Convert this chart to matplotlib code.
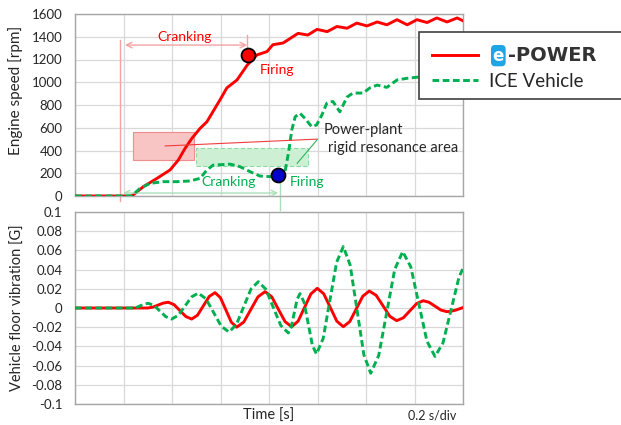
import matplotlib
matplotlib.use('Agg')
import matplotlib.pyplot as plt
from matplotlib.lines import Line2D
from matplotlib.patches import Rectangle

plt.rcParams['font.family'] = ['Lato', 'DejaVu Sans']

# ---------------- data (time in 0.2 s divisions) ----------------
t_rpm_epower = [0, 1.17, 1.41, 1.69, 1.96, 2.13, 2.27, 2.41, 2.58, 2.72, 2.99, 3.13,
                3.34, 3.55, 3.75, 3.96, 4.08, 4.29, 4.60, 4.80, 4.99, 5.20, 5.40,
                5.61, 5.81, 6.02, 6.23, 6.43, 6.64, 6.85, 7.05, 7.26, 7.46, 7.67,
                7.88, 8.0]
rpm_epower = [0, 0, 82, 155, 229, 316, 419, 507, 595, 653, 845, 950,
              1020, 1150, 1240, 1270, 1330, 1345, 1430, 1415, 1465, 1445, 1490,
              1475, 1520, 1495, 1530, 1505, 1550, 1505, 1550, 1525, 1565, 1530,
              1565, 1540]

t_rpm_ice = [0, 1.17, 1.34, 1.55, 1.82, 2.10, 2.37, 2.58, 2.72, 2.85, 3.20, 3.40,
             3.61, 3.81, 4.02, 4.19, 4.33, 4.40, 4.47, 4.54, 4.64, 4.74, 4.88,
             4.98, 5.09, 5.19, 5.26, 5.32, 5.46, 5.61, 5.73, 5.94, 6.08, 6.23,
             6.43, 6.64, 6.85, 7.07, 7.53, 8.0]
rpm_ice = [0, 0, 68, 111, 126, 126, 132, 155, 229, 272, 280, 258,
           214, 176, 170, 185, 214, 375, 580, 697, 727, 683, 609,
           624, 712, 815, 829, 830, 740, 870, 905, 905, 950, 975,
           955, 1020, 1035, 1045, 1070, 1090]

t_vib_epower = [0, 1.0, 1.50, 1.606, 1.712, 1.818, 1.924, 2.045, 2.165, 2.286, 2.406,
                2.526, 2.647, 2.767, 2.887, 2.999, 3.111, 3.222, 3.334, 3.480, 3.626,
                3.772, 3.918, 4.056, 4.193, 4.331, 4.468, 4.600, 4.732, 4.864, 4.996,
                5.130, 5.264, 5.398, 5.532, 5.666, 5.800, 5.934, 6.068, 6.209, 6.351,
                6.492, 6.633, 6.770, 6.907, 7.044, 7.181, 7.302, 7.423, 7.543, 7.664,
                7.75, 7.85, 7.93, 8.0]
vib_epower = [0, 0, 0, 0.0009, 0.003, 0.0051, 0.006, 0.0034, -0.0028, -0.0089, -0.0115,
              -0.0075, 0.0023, 0.012, 0.016, 0.0107, -0.002, -0.0147, -0.020, -0.0146, -0.0015,
              0.0116, 0.017, 0.0117, -0.0013, -0.0142, -0.0195, -0.0137, 0.0005, 0.0147, 0.0205,
              0.0147, 0.0005, -0.0137, -0.0195, -0.0141, -0.0009, 0.0123, 0.0177, 0.0132, 0.0023,
              -0.0087, -0.0132, -0.0102, -0.0028, 0.0046, 0.0076, 0.0059, 0.0019, -0.0021, -0.0038,
              -0.0034, -0.0022, -0.0008, 0.0005]

t_vib_ice = [0, 1.196, 1.275, 1.354, 1.432, 1.511, 1.632, 1.753, 1.873, 1.994,
             2.131, 2.268, 2.405, 2.542, 2.700, 2.859, 3.017, 3.175, 3.326, 3.477,
             3.628, 3.779, 3.934, 4.088, 4.243, 4.398, 4.458, 4.519, 4.579, 4.639,
             4.724, 4.809, 4.894, 4.979, 5.117, 5.256, 5.394, 5.532, 5.673, 5.815,
             5.956, 6.097, 6.262, 6.427, 6.592, 6.757, 6.924, 7.090, 7.257, 7.423,
             7.587, 7.752, 7.916, 8.0]
vib_ice = [0, 0, 0.0007, 0.00245, 0.0042, 0.0049, 0.0025, -0.0033, -0.0091, -0.0115,
           -0.0076, 0.002, 0.0116, 0.0155, 0.0096, -0.0048, -0.0191, -0.025, -0.0174, 0.0012,
           0.0197, 0.0274, 0.0196, 0.0007, -0.0182, -0.026, -0.020, -0.0055, 0.009, 0.015,
           0.0058, -0.0165, -0.0388, -0.048, -0.0317, 0.008, 0.0476, 0.064, 0.0447, -0.002,
           -0.0487, -0.068, -0.0495, -0.0047, 0.0402, 0.0587, 0.0428, 0.0041, -0.0346, -0.0505,
           -0.0364, -0.0023, 0.0319, 0.0413]

rpm_ticks = [0, 200, 400, 600, 800, 1000, 1200, 1400, 1600]
vib_ticks = [-0.1, -0.08, -0.06, -0.04, -0.02, 0, 0.02, 0.04, 0.06, 0.08, 0.1]
vib_tick_labels = ['-0.1', '-0.08', '-0.06', '-0.04', '-0.02', '0',
                   '0.02', '0.04', '0.06', '0.08', '0.1']
time_divs = [0, 1, 2, 3, 4, 5, 6, 7, 8]
series_labels = ['e-POWER', 'ICE Vehicle']

RED = '#ff0000'
GREEN = '#00b050'
LRED = '#f4a3a3'
LGREEN = '#a9dfb9'
TXT = '#262626'
DASH = (2.3, 1.2)

W, H = 621, 425
fig = plt.figure(figsize=(W / 100, H / 100), dpi=100)
ax1 = fig.add_axes([75 / W, 1 - 196 / H, 388 / W, 182 / H])
ax2 = fig.add_axes([75 / W, 1 - 404 / H, 388 / W, 192 / H])

for ax in (ax1, ax2):
    ax.set_xlim(0, 8)
    ax.set_xticks(time_divs)
    ax.set_xticklabels([])
    ax.grid(True, color='#d9d9d9', lw=0.9)
    ax.set_axisbelow(True)
    for s in ax.spines.values():
        s.set_color('#a6a6a6')
        s.set_linewidth(1.0)
    ax.tick_params(length=0, pad=9, labelsize=9.5, labelcolor=TXT)

# ---- top: engine speed ----
ax1.set_ylim(0, 1600)
ax1.set_yticks(rpm_ticks)

# resonance areas
ax1.add_patch(Rectangle((1.20, 318), 1.25, 247, facecolor='#f9c4c4', edgecolor='#f08c8c',
                        lw=0.8, zorder=1.5))
ax1.add_patch(Rectangle((2.50, 266), 2.31, 153, facecolor='#cdf0d4', edgecolor='#8fd9a3',
                        lw=0.8, ls=(0, (4, 2)), zorder=1.5))

ax1.plot(t_rpm_epower, rpm_epower, color=RED, lw=2.1, zorder=3)
ax1.plot(t_rpm_ice, rpm_ice, color=GREEN, lw=2.1, dashes=DASH, zorder=3.1)

# resonance pointer lines
ax1.plot([1.86, 4.99], [440, 500], color='#f03c3c', lw=0.8, zorder=3.2)
ax1.plot([4.58, 5.0], [287, 498], color='#2fb45a', lw=0.8, zorder=3.2)
ax1.text(5.13, 580, 'Power-plant', fontsize=10.5, color=TXT, va='center', ha='left', zorder=4)
ax1.text(5.22, 420, 'rigid resonance area', fontsize=10.5, color=TXT, va='center', ha='left', zorder=4)

# e-POWER cranking
ax1.plot([0.93, 0.93], [-40, 1370], color=LRED, lw=1.0, clip_on=False, zorder=2)
ax1.annotate('', xy=(1.03, 1327), xytext=(3.55, 1327),
             arrowprops=dict(arrowstyle='<->', color=LRED, lw=1.0, shrinkA=0, shrinkB=0))
ax1.plot([3.55, 3.55], [1283, 1415], color=LRED, lw=1.0, zorder=2)
ax1.text(2.25, 1398, 'Cranking', fontsize=10, color=RED, ha='center', va='center')
ax1.plot([3.57], [1240], 'o', ms=10, mfc='#ff0000', mec='black', mew=1.3, zorder=5)
ax1.text(3.81, 1107, 'Firing', fontsize=10, color=RED, ha='left', va='center')

# ICE cranking
ax1.plot([4.23, 4.23], [-120, 140], color=LGREEN, lw=1.0, clip_on=False, zorder=2)
ax1.annotate('', xy=(0.99, 26), xytext=(4.19, 26),
             arrowprops=dict(arrowstyle='<->', color=LGREEN, lw=1.0, shrinkA=0, shrinkB=0))
ax1.text(3.16, 123, 'Cranking', fontsize=10, color=GREEN, ha='center', va='center')
ax1.plot([4.19], [189], 'o', ms=10, mfc='#0000cc', mec='black', mew=1.3, zorder=5)
ax1.text(4.42, 123, 'Firing', fontsize=10, color=GREEN, ha='left', va='center')

# ---- bottom: vibration ----
ax2.set_ylim(-0.1, 0.1)
ax2.set_yticks(vib_ticks)
ax2.set_yticklabels(vib_tick_labels)
ax2.plot(t_vib_epower, vib_epower, color=RED, lw=2.1, zorder=3)
ax2.plot(t_vib_ice, vib_ice, color=GREEN, lw=2.1, dashes=DASH, zorder=3.1)

fig.text(269 / W, 1 - 416 / H, 'Time [s]', fontsize=10.5, color=TXT, ha='center', va='center')
fig.text(432 / W, 1 - 416 / H, '0.2 s/div', fontsize=9, color=TXT, ha='center', va='center')
fig.text(16 / W, 1 - 90 / H, 'Engine speed [rpm]', fontsize=11, color=TXT,
         rotation=90, ha='center', va='center')
fig.text(18 / W, 1 - 308 / H, 'Vehicle floor vibration [G]', fontsize=10.5, color=TXT,
         rotation=90, ha='center', va='center')

# ---- legend (box runs off the right edge, as in the reference) ----
fig.add_artist(Rectangle((419 / W, 1 - 99 / H), 220 / W, 67 / H, transform=fig.transFigure,
                         facecolor='white', edgecolor='#404040', lw=1.2, zorder=9,
                         clip_on=False))
LOGO_SHIFT = 19  # px: room for the blue "e" badge of the e-POWER logo
handles = [Line2D([], [], color=RED, lw=2.1),
           Line2D([], [], color=GREEN, lw=2.1, dashes=DASH)]
leg = fig.legend(handles, [series_labels[0][1:], series_labels[1]],
                 loc='upper left', bbox_to_anchor=(419 / W, 1 - 33 / H), frameon=False,
                 fontsize=13.5, handlelength=2.45, borderaxespad=0, borderpad=0.7,
                 labelspacing=0.42, handletextpad=0.6)
leg.set_zorder(10)
t0 = leg.get_texts()[0]
t0.set_family('DejaVu Sans')
t0.set_fontweight('bold')
t0.set_color('#333333')
t0.set_fontsize(14)
t0.set_x(LOGO_SHIFT)
leg.get_texts()[1].set_color(TXT)

fig.canvas.draw()
bb = t0.get_window_extent()
fig.text((bb.x0 - LOGO_SHIFT + 9) / W, (bb.y0 + bb.y1) / 2 / H, series_labels[0][0],
         fontsize=12, fontweight='bold', family='DejaVu Sans', color='white',
         ha='center', va='center', zorder=11,
         bbox=dict(boxstyle='round,pad=0.1,rounding_size=0.25', facecolor='#1ea5e6',
                   edgecolor='none'))

fig.savefig('out.png', dpi=100)
